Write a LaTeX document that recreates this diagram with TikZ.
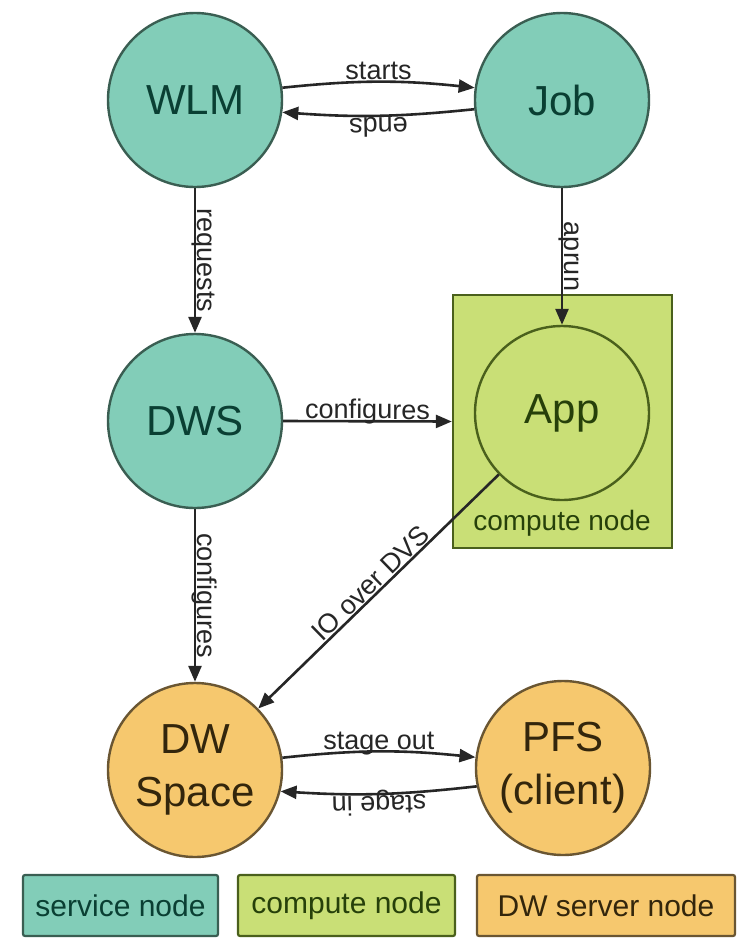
\documentclass[tikz,border=0pt]{standalone}
\usepackage{fontspec}
\setmainfont{Liberation Sans}
\usetikzlibrary{arrows.meta}

\definecolor{svcfill}{HTML}{82CDB8}
\definecolor{svcline}{HTML}{3A5E52}
\definecolor{svctext}{HTML}{0A3F33}
\definecolor{cmpfill}{HTML}{C9DF76}
\definecolor{cmpline}{HTML}{4A601C}
\definecolor{cmptext}{HTML}{26400A}
\definecolor{dwfill}{HTML}{F6C86E}
\definecolor{dwline}{HTML}{6A5632}
\definecolor{dwtext}{HTML}{33260C}
\definecolor{edgecol}{HTML}{262626}

\begin{document}
\begin{tikzpicture}[x=1pt,y=1pt,
  roundnode/.style={circle, minimum size=174pt, inner sep=0pt, line width=2.4pt,
    font=\fontsize{42}{53}\selectfont, align=center},
  svc/.style={roundnode, fill=svcfill, draw=svcline, text=svctext},
  cmp/.style={roundnode, fill=cmpfill, draw=cmpline, text=cmptext},
  dw/.style={roundnode, fill=dwfill, draw=dwline, text=dwtext},
  flow/.style={draw=edgecol, line width=2.6pt, -{Triangle[length=16pt,width=13pt]}},
  lblbase/.style={font=\fontsize{27}{30}\selectfont, text=edgecol, sloped,
    above, inner sep=1pt, text depth=0pt},
  lbl/.style={lblbase, allow upside down},
  keybox/.style={rectangle, rounded corners=2pt, line width=2.2pt, inner sep=0pt,
    minimum height=61pt, font=\fontsize{30}{34}\selectfont},
]
\useasboundingbox (0,0) rectangle (740,-940);
\fill[white] (0,0) rectangle (740,-940);

% compute node frame around the application
\node[rectangle, fill=cmpfill, draw=cmpline, line width=2.4pt,
  minimum width=219pt, minimum height=253pt, inner sep=0pt] (cbox) at (562.5,-421.5) {};
\node[font=\fontsize{28}{32}\selectfont, text=cmptext] (cboxlabel) at (562,-523) {compute node};

% nodes
\node[svc] (WLM) at (195,-100) {WLM};
\node[svc] (Job) at (562,-100) {Job};
\node[svc] (DWS) at (195,-421) {DWS};
\node[cmp] (App) at (562,-413) {App};
\node[dw] (DWSpace) at (195,-770) {DW\\Space};
\node[dw] (PFS) at (563,-768) {PFS\\(client)};

% connectors
\draw[flow] (WLM.8) to[bend left=6] node[lbl] {starts} (Job.172);
\draw[flow] (Job.186) to[bend left=5] node[lbl] {ends} (WLM.352);
\draw[flow] (WLM.south) -- node[lbl] {requests} (DWS.north);
\draw[flow] (Job.south) -- node[lbl] {aprun} (App.north);
\draw[flow] (DWS.east) -- node[lbl] {configures} (cbox.west);
\draw[flow] (DWS.south) -- node[lbl] {configures} (DWSpace.north);
\draw[flow] (App) -- node[lblbase] {IO over DVS} (DWSpace);
\draw[flow] (DWSpace.8) to[bend left=6] node[lbl] {stage out} (PFS.173);
\draw[flow] (PFS.192) to[bend left=5] node[lbl] {stage in} (DWSpace.346);

% legend
\node[keybox, fill=svcfill, draw=svcline, text=svctext, minimum width=195pt] (key1) at (120.5,-905.5) {service node};
\node[keybox, fill=cmpfill, draw=cmpline, text=cmptext, minimum width=217pt] (key2) at (346.5,-905.5) {compute node};
\node[keybox, fill=dwfill, draw=dwline, text=dwtext, minimum width=258pt] (key3) at (606,-905.5) {DW server node};
\end{tikzpicture}
\end{document}
